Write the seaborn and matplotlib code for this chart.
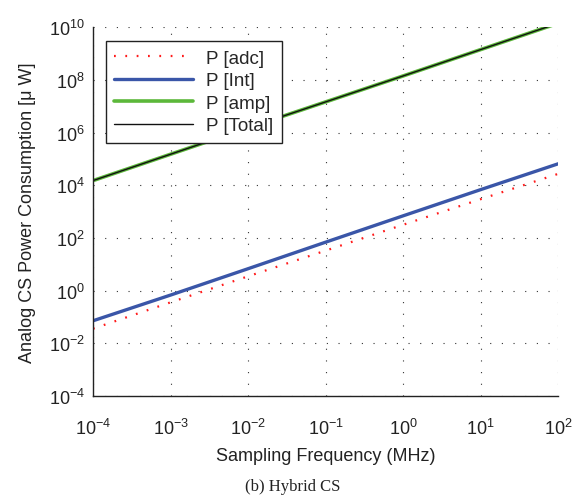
import numpy as np
import pandas as pd
import matplotlib
matplotlib.use("Agg")
import matplotlib.pyplot as plt
import matplotlib.ticker as mticker
import seaborn as sns

freq = [1e-4, 1e-3, 1e-2, 1e-1, 1e0, 1e1, 1e2]
p_adc = [0.036, 0.36, 3.5, 33, 316, 2950, 27000]
p_int = [0.072, 0.68, 6.8, 69, 690, 6800, 65000]
p_amp = [1.5e4, 1.5e5, 1.5e6, 1.45e7, 1.4e8, 1.4e9, 1.4e10]
p_total = [a + b + c for a, b, c in zip(p_adc, p_int, p_amp)]

series_names = ["P [adc]", "P [Int]", "P [amp]", "P [Total]"]

sns.set_style("white")
plt.rcParams['font.family'] = ['Liberation Sans', 'DejaVu Sans']
plt.rcParams['mathtext.fontset'] = 'custom'
plt.rcParams['mathtext.rm'] = 'Liberation Sans'
plt.rcParams['mathtext.it'] = 'Liberation Sans'

fig = plt.figure(figsize=(5.85, 5.02), dpi=100)
ax = fig.add_axes([0.159, 0.209, 0.795, 0.735])

styles = {
    "P [adc]": dict(color="#ff1a1a", lw=1.6, ls=(0, (0.8, 4.3))),
    "P [Int]": dict(color="#3a56a8", lw=2.4, ls="-"),
    "P [amp]": dict(color="#5cb83a", lw=2.6, ls="-"),
    "P [Total]": dict(color="#111111", lw=1.0, ls="-"),
}
for name, vals in zip(series_names, [p_adc, p_int, p_amp, p_total]):
    df = pd.DataFrame({"f": freq, "p": vals})
    st = styles[name]
    sns.lineplot(data=df, x="f", y="p", ax=ax, color=st["color"], lw=st["lw"],
                 linestyle=st["ls"], label=name)

ax.set_xscale("log")
ax.set_yscale("log")
ax.set_xlim(1e-4, 1e2)
ax.set_ylim(1e-4, 1e10)

def fmt(v, pos):
    e = int(round(np.log10(v)))
    return r"$\mathregular{10^{%s}}$" % (("\u2212%d" % -e) if e < 0 else str(e))

ax.xaxis.set_major_locator(mticker.FixedLocator([10.0 ** k for k in range(-4, 3)]))
minor_x = [m * 10.0 ** k for k in range(-4, 2) for m in range(2, 10)]
ax.xaxis.set_minor_locator(mticker.FixedLocator(minor_x))
ax.xaxis.set_major_formatter(mticker.FuncFormatter(fmt))
ax.xaxis.set_minor_formatter(mticker.NullFormatter())
ax.yaxis.set_major_locator(mticker.FixedLocator([10.0 ** k for k in range(-4, 11, 2)]))
ax.yaxis.set_minor_locator(mticker.NullLocator())
ax.yaxis.set_major_formatter(mticker.FuncFormatter(fmt))

ax.tick_params(axis="both", which="major", direction="in", length=5, width=0.8,
               labelsize=13, colors="#222222")
ax.tick_params(axis="x", which="major", pad=16)
ax.tick_params(axis="x", which="minor", direction="in", length=3, width=0.6)
ax.tick_params(axis="y", which="major", pad=6)

ax.grid(True, which="major", color="#333333", linestyle=(0, (1, 9.5)), linewidth=0.8)
for s in ["top", "right"]:
    ax.spines[s].set_visible(False)
for s in ["left", "bottom"]:
    ax.spines[s].set_color("#222222")
    ax.spines[s].set_linewidth(1.0)

ax.set_xlabel("Sampling Frequency (MHz)", fontsize=13, color="#222222", labelpad=6)
ax.set_ylabel("Analog CS Power Consumption [\u03bc W]", fontsize=13, color="#222222", labelpad=9)

leg = ax.legend(loc="upper left", bbox_to_anchor=(0.028, 0.962), fontsize=13.5,
                frameon=True, fancybox=False, handlelength=4.2, handletextpad=0.7,
                borderpad=0.45, labelspacing=0.29, borderaxespad=0)
leg.get_frame().set_edgecolor("#222222")
leg.get_frame().set_linewidth(1.0)
leg.get_frame().set_alpha(1)

fig.text(0.5, 0.03, "(b) Hybrid CS", ha="center", va="center", fontsize=12,
         family=["Liberation Serif", "DejaVu Serif"], color="#222222")

fig.savefig("out.png", dpi=100)
